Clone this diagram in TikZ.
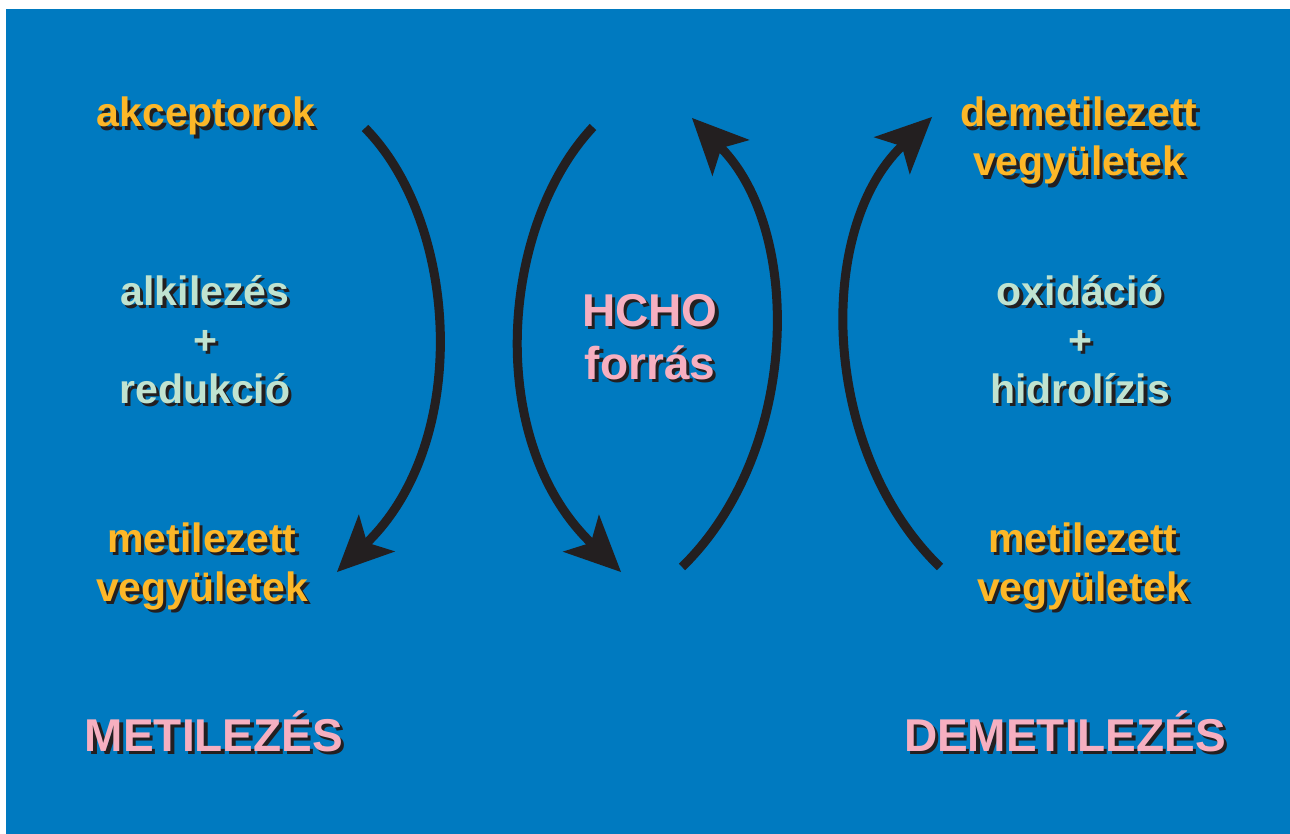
\documentclass[tikz,border=0pt]{standalone}
\usepackage{fontspec}
\setmainfont{Liberation Sans}
\usepackage{xcolor}
\usetikzlibrary{arrows.meta}

\definecolor{bgblue}{RGB}{0,122,192}
\definecolor{txtorange}{RGB}{253,183,40}
\definecolor{txtmint}{RGB}{192,227,208}
\definecolor{txtpink}{RGB}{246,175,192}
\definecolor{shadowc}{RGB}{35,31,32}

% text with a dark drop shadow
\newcommand{\shd}[2]{\leavevmode\rlap{\kern1.6pt\raisebox{-1.6pt}{\color{shadowc}#2}}{\color{#1}#2}}

\begin{document}
\begin{tikzpicture}[
    x=0.5pt, y=-0.5pt,
    lbl/.style={font=\fontsize{20.5}{24.5}\selectfont\bfseries, align=center, inner sep=0pt, anchor=base},
    biglbl/.style={font=\fontsize{23}{26.5}\selectfont\bfseries, align=center, inner sep=0pt, anchor=base},
    cyc/.style={line width=4.5pt, draw=shadowc, -{Stealth[length=28pt, width=26pt, inset=7pt, line width=0pt]}}
]

% background
\useasboundingbox (0,0) rectangle (1290,834);
\fill[bgblue] (6,9) rectangle (1290,834);

% Labels, left side (multi-line nodes sit on their last baseline)
\node[lbl] (acc) at (206,127) {\shd{txtorange}{akceptorok}};
\node[lbl] (alk) at (205,403) {\shd{txtmint}{alkilezés}\\\shd{txtmint}{+}\\\shd{txtmint}{redukció}};
\node[lbl] (met) at (202,601) {\shd{txtorange}{metilezett}\\\shd{txtorange}{vegyületek}};
\node[biglbl] (metil) at (214,751) {\shd{txtpink}{METILEZÉS}};

% Labels, middle
\node[biglbl] (hcho) at (650,379) {\shd{txtpink}{HCHO}\\\shd{txtpink}{forrás}};

% Labels, right side
\node[lbl] (demet) at (1079,176) {\shd{txtorange}{demetilezett}\\\shd{txtorange}{vegyületek}};
\node[lbl] (oxi) at (1080,403) {\shd{txtmint}{oxidáció}\\\shd{txtmint}{+}\\\shd{txtmint}{hidrolízis}};
\node[lbl] (met2) at (1083,601) {\shd{txtorange}{metilezett}\\\shd{txtorange}{vegyületek}};
\node[biglbl] (demetil) at (1065,751) {\shd{txtpink}{DEMETILEZÉS}};

% Arc end points
\coordinate (a1) at (365,128);
\coordinate (a2) at (337,572);
\coordinate (b1) at (593,127);
\coordinate (b2) at (621,572);
\coordinate (c1) at (682,567);
\coordinate (c2) at (692,118);
\coordinate (d1) at (940,567);
\coordinate (d2) at (932,117);

% Arcs
\draw[cyc] (a1) .. controls (458,222) and (472,440) .. (a2);
\draw[cyc] (b1) .. controls (500,226) and (485,440) .. (b2);
\draw[cyc] (c1) .. controls (800,452) and (803,232) .. (c2);
\draw[cyc] (d1) .. controls (821,452) and (815,230) .. (d2);

\end{tikzpicture}
\end{document}
